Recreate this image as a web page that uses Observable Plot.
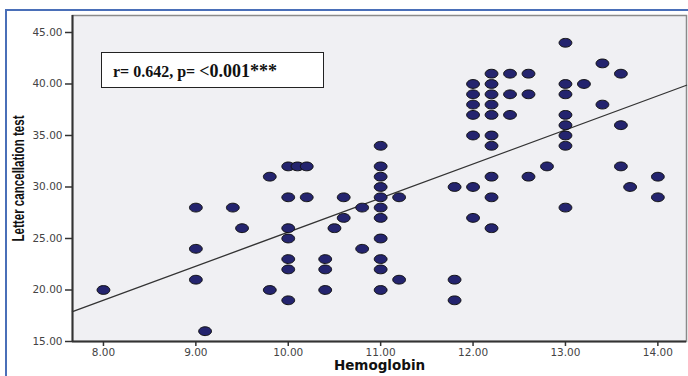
<!DOCTYPE html>
<html>
<head>
<meta charset="utf-8">
<script src="https://cdn.jsdelivr.net/npm/d3@7"></script>
<script src="https://cdn.jsdelivr.net/npm/@observablehq/plot@0.6"></script>
<style>
  html, body { margin: 0; padding: 0; background: #fff; }
  #wrap { position: relative; width: 688px; height: 376px; overflow: hidden; }
  #border { position: absolute; left: 5px; top: 9px; width: 690px; height: 380px;
            border-top: 2px solid #4a6fb8; border-left: 2px solid #4a6fb8; box-sizing: border-box; }
  #note { position: absolute; left: 101px; top: 52px; width: 223px; height: 36px; box-sizing: border-box;
          border: 1px solid #222; background: #fff; font-family: "Liberation Serif", serif; font-weight: bold;
          color: #111; white-space: nowrap; padding-left: 11px; line-height: 36px; }
  #note .a { font-size: 16px; }
  #note .b { font-size: 18px; }
</style>
</head>
<body>
<div id="wrap">
  <div id="chart"></div>
  <div id="border"></div>
  <div id="note"><span class="a">r= 0.642, p= </span><span class="b">&lt;0.001***</span></div>
</div>
<script>
const hemoglobin = [
  8.0,
  9.0, 9.0, 9.0,
  9.1,
  9.4,
  9.5,
  9.8, 9.8,
  10.0, 10.0, 10.0, 10.0, 10.0, 10.0, 10.0,
  10.1,
  10.2, 10.2,
  10.4, 10.4, 10.4,
  10.5,
  10.6, 10.6,
  10.8, 10.8,
  11.0, 11.0, 11.0, 11.0, 11.0, 11.0, 11.0, 11.0, 11.0, 11.0, 11.0,
  11.2, 11.2,
  11.8, 11.8, 11.8,
  12.0, 12.0, 12.0, 12.0, 12.0, 12.0, 12.0,
  12.2, 12.2, 12.2, 12.2, 12.2, 12.2, 12.2, 12.2, 12.2, 12.2,
  12.4, 12.4, 12.4,
  12.6, 12.6, 12.6,
  12.8,
  13.0, 13.0, 13.0, 13.0, 13.0, 13.0, 13.0, 13.0,
  13.2,
  13.4, 13.4,
  13.6, 13.6, 13.6,
  13.7,
  14.0, 14.0
];
const letterScore = [
  20,
  28, 24, 21,
  16,
  28,
  26,
  31, 20,
  32, 29, 26, 25, 23, 22, 19,
  32,
  32, 29,
  23, 22, 20,
  26,
  29, 27,
  28, 24,
  34, 32, 31, 30, 29, 28, 27, 25, 23, 22, 20,
  29, 21,
  30, 21, 19,
  40, 39, 38, 37, 35, 30, 27,
  41, 40, 39, 38, 37, 35, 34, 31, 29, 26,
  41, 39, 37,
  41, 39, 31,
  32,
  44, 40, 39, 37, 36, 35, 34, 28,
  40,
  42, 38,
  41, 36, 32,
  30,
  31, 29
];
const xTicks = [8, 9, 10, 11, 12, 13, 14];
const yTicks = [15, 20, 25, 30, 35, 40, 45];
const xDomain = [7.665, 14.31];
const yDomain = [15, 46.65];
const xLabel = "Hemoglobin";
const yLabel = "Letter cancellation test";

const points = hemoglobin.map((h, i) => ({hb: h, score: letterScore[i]}));

// least-squares fit computed from the data
const mx = d3.mean(points, d => d.hb), my = d3.mean(points, d => d.score);
const slope = d3.sum(points, d => (d.hb - mx) * (d.score - my)) / d3.sum(points, d => (d.hb - mx) ** 2);
const intercept = my - slope * mx;
const fit = xDomain.map(x => ({hb: x, score: intercept + slope * x}));

const ellipse = {
  draw(ctx) {
    const rx = 6.4, ry = 4.4, k = 0.5523;
    ctx.moveTo(rx, 0);
    ctx.bezierCurveTo(rx, ry * k, rx * k, ry, 0, ry);
    ctx.bezierCurveTo(-rx * k, ry, -rx, ry * k, -rx, 0);
    ctx.bezierCurveTo(-rx, -ry * k, -rx * k, -ry, 0, -ry);
    ctx.bezierCurveTo(rx * k, -ry, rx, -ry * k, rx, 0);
    ctx.closePath();
  }
};

const fmt = d3.format(".2f");
const chart = Plot.plot({
  width: 688,
  height: 376,
  marginLeft: 72,
  marginTop: 15,
  marginRight: 2,
  marginBottom: 35,
  style: {background: "transparent", fontFamily: "DejaVu Sans", overflow: "visible"},
  x: {domain: xDomain, ticks: xTicks, tickFormat: fmt, label: null},
  y: {domain: yDomain, ticks: yTicks, tickFormat: fmt, label: null},
  marks: [
    Plot.frame({fill: "#f0f0f3", stroke: "#8a8a8a", strokeWidth: 1.5}),
    Plot.axisX({ticks: xTicks, tickFormat: fmt, tickSize: 5, tickPadding: 2, fontSize: 10.5, fill: "#444", stroke: "#333", strokeWidth: 1.5, label: null}),
    Plot.axisY({ticks: yTicks, tickFormat: fmt, tickSize: 7, tickPadding: 3, fontSize: 10.5, fill: "#444", stroke: "#333", strokeWidth: 1.5, label: null}),
    Plot.ruleX([xDomain[0]], {stroke: "#333", strokeWidth: 2}),
    Plot.ruleY([yDomain[0]], {stroke: "#333", strokeWidth: 2}),
    Plot.line(fit, {x: "hb", y: "score", stroke: "#333", strokeWidth: 1.3}),
    Plot.dot(points, {x: "hb", y: "score", symbol: ellipse, fill: "#24246e", stroke: "#111", strokeWidth: 1}),
    Plot.text([xLabel], {frameAnchor: "bottom", dy: 28.5, text: d => d, fontFamily: "DejaVu Sans", fontWeight: "bold", fontSize: 13.5, fill: "#111"}),
    Plot.text([yLabel], {frameAnchor: "left", dx: -54, rotate: -90, text: d => d, fontFamily: "Liberation Sans", fontWeight: "bold", fontSize: 16, fill: "#111", className: "ytitle"})
  ]
});
document.getElementById("chart").appendChild(chart);
chart.querySelectorAll(".ytitle text").forEach(t => {
  t.setAttribute("text-anchor", "start");
  t.setAttribute("x", "-63");
  t.setAttribute("textLength", "126");
  t.setAttribute("lengthAdjust", "spacingAndGlyphs");
});
</script>
</body>
</html>
